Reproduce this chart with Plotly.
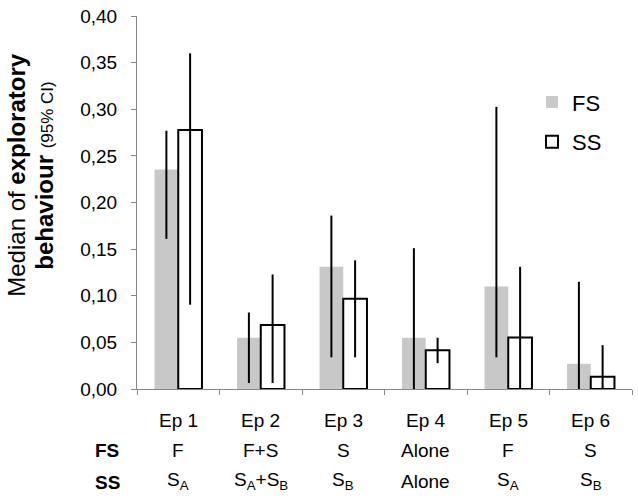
import plotly.graph_objects as go

episodes = ["Ep 1", "Ep 2", "Ep 3", "Ep 4", "Ep 5", "Ep 6"]
fs_row = ["F", "F+S", "S", "Alone", "F", "S"]
ss_row = ["S<sub>A</sub>", "S<sub>A</sub>+S<sub>B</sub>", "S<sub>B</sub>", "Alone", "S<sub>A</sub>", "S<sub>B</sub>"]

fs_median = [0.2355, 0.055, 0.131, 0.055, 0.110, 0.027]
fs_upper = [0.277, 0.082, 0.186, 0.151, 0.3026, 0.115]
fs_lower = [0.161, 0.0064, 0.034, 0.0, 0.034, 0.0]

ss_median = [0.2777, 0.0685, 0.0968, 0.0415, 0.0553, 0.0132]
ss_upper = [0.360, 0.1228, 0.138, 0.055, 0.131, 0.047]
ss_lower = [0.0904, 0.0064, 0.034, 0.0277, 0.0, 0.0]

y_ticks = [0.0, 0.05, 0.10, 0.15, 0.20, 0.25, 0.30, 0.35, 0.40]

FONT = "Liberation Sans, Arial, sans-serif"
W, H = 638, 499
L, R, T, B = 137, 6, 13, 110

def err(med, up, lo):
    return dict(type="data", symmetric=False,
                array=[u - m for u, m in zip(up, med)],
                arrayminus=[m - l for m, l in zip(med, lo)],
                color="black", thickness=2, width=0)

fig = go.Figure()
fig.add_trace(go.Bar(
    x=episodes, y=fs_median, name="FS", legend="legend",
    marker=dict(color="#c8c8c8", line=dict(width=0)),
    error_y=err(fs_median, fs_upper, fs_lower),
))
fig.add_trace(go.Bar(
    x=episodes, y=ss_median, name="SS", legend="legend2",
    marker=dict(color="white", line=dict(color="black", width=2)),
    error_y=err(ss_median, ss_upper, ss_lower),
))

plot_w = W - L - R
plot_h = H - T - B

def px_x(px):
    return (px - L) / plot_w

def px_y(py):
    return (H - B - py) / plot_h

annotations = []
for i, ep in enumerate(episodes):
    annotations.append(dict(x=ep, xref="x", y=0, yref="paper", yanchor="middle",
                            yshift=-31, text=ep, showarrow=False,
                            font=dict(size=19, color="black", family=FONT)))
    annotations.append(dict(x=ep, xref="x", y=0, yref="paper", yanchor="middle",
                            yshift=-61, text=fs_row[i], showarrow=False,
                            font=dict(size=19, color="black", family=FONT)))
    annotations.append(dict(x=ep, xref="x", y=0, yref="paper", yanchor="middle",
                            yshift=-92, text=ss_row[i], showarrow=False,
                            font=dict(size=19, color="black", family=FONT)))
annotations.append(dict(x=0, xref="paper", xshift=-44, y=0, yref="paper", yanchor="middle",
                        yshift=-61, text="<b>FS</b>", showarrow=False,
                        font=dict(size=19, color="black", family=FONT)))
annotations.append(dict(x=0, xref="paper", xshift=-44, y=0, yref="paper", yanchor="middle",
                        yshift=-93, text="<b>SS</b>", showarrow=False,
                        font=dict(size=19, color="black", family=FONT)))
# Y-axis title (two rotated lines)
annotations.append(dict(x=0, xref="paper", xshift=17 - L, y=px_y(174), yref="paper",
                        xanchor="center", yanchor="middle", textangle=-90,
                        text="Median of <b>exploratory</b>", showarrow=False,
                        font=dict(size=24, color="black", family=FONT)))
annotations.append(dict(x=0, xref="paper", xshift=45 - L, y=px_y(174), yref="paper",
                        xanchor="center", yanchor="middle", textangle=-90,
                        text="<b>behaviour</b> <span style='font-size:17px'>(95% CI)</span>",
                        showarrow=False,
                        font=dict(size=24, color="black", family=FONT)))

fig.update_layout(
    width=W, height=H,
    margin=dict(l=L, r=R, t=T, b=B, pad=0),
    paper_bgcolor="white", plot_bgcolor="white",
    barmode="group", bargap=0.425, bargroupgap=0,
    separators=", ",
    font=dict(family=FONT, color="black", size=19),
    showlegend=True,
    legend=dict(x=px_x(532), y=px_y(100), xanchor="left", yanchor="middle",
                bgcolor="rgba(0,0,0,0)", font=dict(size=22, family=FONT),
                itemwidth=30, borderwidth=0),
    legend2=dict(x=px_x(532), y=px_y(140), xanchor="left", yanchor="middle",
                 bgcolor="rgba(0,0,0,0)", font=dict(size=22, family=FONT),
                 itemwidth=30, borderwidth=0),
    xaxis=dict(type="category", range=[-0.5, 5.5], showticklabels=False,
               ticks="outside", tickson="boundaries", ticklen=5, tickcolor="#868686",
               showline=True, linecolor="#868686", linewidth=1, showgrid=False,
               zeroline=False),
    yaxis=dict(range=[0, 0.40], tickvals=y_ticks, tickformat=".2f",
               ticks="outside", ticklen=5, tickcolor="#868686",
               showline=True, linecolor="#868686", linewidth=1, showgrid=False,
               zeroline=False, ticklabelstandoff=10,
               tickfont=dict(size=19, color="black", family=FONT)),
    annotations=annotations,
)

fig.write_html("out.html", config={"displayModeBar": False},
               post_script="document.body.style.margin='0px';")
